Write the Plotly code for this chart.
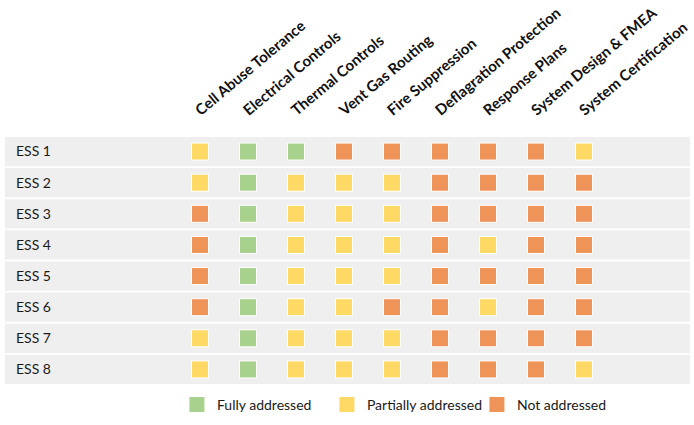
import plotly.graph_objects as go

criteria = ["Cell Abuse Tolerance", "Electrical Controls", "Thermal Controls",
            "Vent Gas Routing", "Fire Suppression", "Deflagration Protection",
            "Response Plans", "System Design & FMEA", "System Certification"]
systems = ["ESS 1", "ESS 2", "ESS 3", "ESS 4", "ESS 5", "ESS 6", "ESS 7", "ESS 8"]

# F = Fully addressed, P = Partially addressed, N = Not addressed
ess1 = ["P", "F", "F", "N", "N", "N", "N", "N", "P"]
ess2 = ["P", "F", "P", "P", "P", "N", "N", "N", "N"]
ess3 = ["N", "F", "P", "P", "P", "N", "N", "N", "N"]
ess4 = ["N", "F", "P", "P", "P", "N", "P", "N", "N"]
ess5 = ["N", "F", "P", "P", "P", "N", "N", "N", "N"]
ess6 = ["N", "F", "P", "P", "N", "N", "P", "N", "N"]
ess7 = ["P", "F", "P", "P", "P", "N", "N", "N", "N"]
ess8 = ["P", "F", "P", "P", "P", "N", "N", "N", "P"]
status_rows = [ess1, ess2, ess3, ess4, ess5, ess6, ess7, ess8]

status_codes = ["F", "P", "N"]
status_names = ["Fully addressed", "Partially addressed", "Not addressed"]
status_colors = ["#A9D18E", "#FFD966", "#EF9458"]

FONT = "Lato"

fig = go.Figure()
for code, name, color in zip(status_codes, status_names, status_colors):
    xs, ys = [], []
    for sysname, row in zip(systems, status_rows):
        for crit, val in zip(criteria, row):
            if val == code:
                xs.append(crit)
                ys.append(sysname)
    fig.add_trace(go.Scatter(
        x=xs, y=ys, mode="markers", name=name,
        marker=dict(symbol="square", size=17, color=color,
                    line=dict(color="white", width=1)),
        hoverinfo="x+y+name",
    ))

# grey row bands
for i, s in enumerate(systems):
    fig.add_shape(type="rect", xref="paper", x0=0, x1=1, yref="y",
                  y0=i - 0.47, y1=i + 0.47, fillcolor="#EFEFEF",
                  line=dict(width=0), layer="below")

fig.update_layout(
    width=694, height=425,
    margin=dict(l=5, r=4, t=136, b=34),
    plot_bgcolor="white", paper_bgcolor="white",
    font=dict(family=FONT, size=14, color="#1A1A1A"),
    xaxis=dict(type="category", categoryorder="array", categoryarray=criteria,
               side="top", range=[-4.0625, 10.208], tickangle=-40,
               ticklabelstandoff=14, ticklabelshift=-4,
               showgrid=False, zeroline=False, showline=False, ticks="",
               tickfont=dict(family=FONT, size=15, color="#111111", weight="bold")),
    yaxis=dict(type="category", categoryorder="array", categoryarray=systems,
               range=[7.5, -0.5], showgrid=False, zeroline=False, showline=False,
               ticks="", ticklabelposition="inside", ticklabelstandoff=8,
               tickfont=dict(family=FONT, size=14, color="#1A1A1A")),
    showlegend=True,
    legend=dict(orientation="h", x=0.251, xanchor="left", y=-0.08, yanchor="middle",
                entrywidth=105, entrywidthmode="pixels",
                font=dict(family=FONT, size=14, color="#1A1A1A"),
                bgcolor="rgba(0,0,0,0)"),
)

fig.write_html("out.html")
